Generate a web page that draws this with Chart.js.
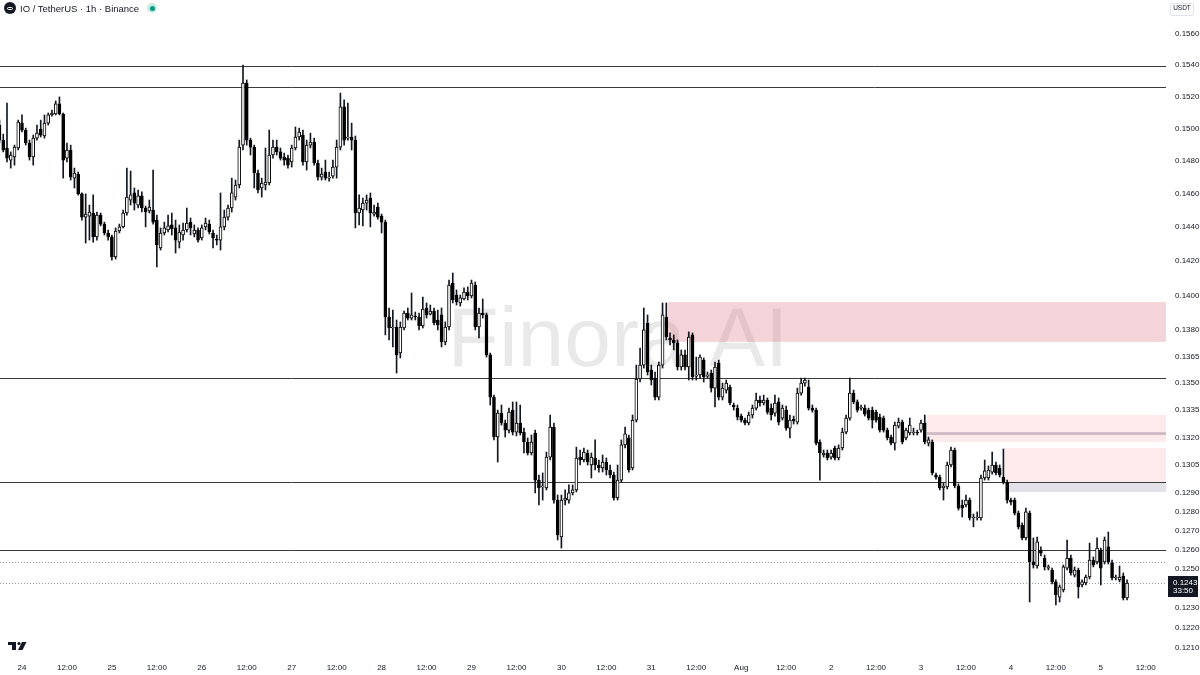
<!DOCTYPE html>
<html>
<head>
<meta charset="utf-8">
<script src="https://cdn.jsdelivr.net/npm/chart.js@4.4.1/dist/chart.umd.min.js"></script>
<style>
  html, body { margin: 0; padding: 0; background: #ffffff; }
  #wrap { position: relative; width: 1200px; height: 675px; overflow: hidden; }
  #title { position: absolute; left: 4px; top: 3px; height: 14px; line-height: 14px;
    font: 9.5px "Liberation Sans", Arial, sans-serif; color: #131722; white-space: nowrap; }
  #title .ico { display: inline-block; width: 12px; height: 12px; border-radius: 50%; background: #131722;
    vertical-align: middle; margin-right: 4px; position: relative; top: -1px; }
  #title .ico:after { content: ""; position: absolute; left: 3px; top: 4.5px; width: 6px; height: 3px;
    border: 1px solid #fff; border-radius: 2px; box-sizing: border-box; }
  #title .live { display: inline-block; width: 10px; height: 10px; border-radius: 50%; background: #c7ebdf;
    vertical-align: middle; margin-left: 8px; position: relative; top: -1px; }
  #title .live:after { content: ""; position: absolute; left: 2.5px; top: 2.5px; width: 5px; height: 5px;
    border-radius: 50%; background: #089981; }
  #unit { position: absolute; left: 1170px; top: 3px; width: 24px; height: 13px; line-height: 13px;
    border: 1px solid #e0e3eb; border-radius: 2px; box-sizing: border-box; text-align: center;
    font: 6.5px "Liberation Sans", Arial, sans-serif; color: #131722; }
</style>
</head>
<body>
<div id="wrap">
  <canvas id="c" width="1200" height="675"></canvas>
  <div id="title"><span class="ico"></span>IO / TetherUS · 1h · Binance<span class="live"></span></div>
  <div id="unit">USDT</div>
</div>
<script>
// hourly candles, first one is 23 Jul 18:00 (hour -6 counted from 24 Jul 00:00)
const startHour = -6;

const open = [
  0.15022,0.14929,0.14880,0.14806,0.14825,0.14880,0.15034,0.14991,0.14911,0.14825,
  0.14941,0.14997,0.14954,0.15034,0.15085,0.15091,0.15154,0.15091,0.14818,0.14868,
  0.14696,0.14721,0.14600,0.14461,0.14467,0.14485,0.14343,0.14473,0.14419,0.14366,
  0.14343,0.14224,0.14378,0.14402,0.14485,0.14563,0.14606,0.14533,0.14588,0.14515,
  0.14497,0.14503,0.14443,0.14277,0.14366,0.14384,0.14414,0.14396,0.14312,0.14354,
  0.14384,0.14431,0.14360,0.14384,0.14336,0.14402,0.14419,0.14366,0.14330,0.14324,
  0.14402,0.14461,0.14515,0.14581,0.14654,0.14898,0.15286,0.14929,0.14886,0.14727,
  0.14636,0.14654,0.14666,0.14837,0.14886,0.14856,0.14825,0.14818,0.14794,0.14880,
  0.14948,0.14960,0.14794,0.14898,0.14917,0.14788,0.14702,0.14733,0.14696,0.14708,
  0.14763,0.14886,0.15135,0.14941,0.14948,0.14929,0.14485,0.14503,0.14545,0.14575,
  0.14479,0.14521,0.14467,0.14431,0.13875,0.13812,0.13818,0.13670,0.13812,0.13898,
  0.13869,0.13881,0.13875,0.13824,0.13927,0.13892,0.13909,0.13858,0.13887,0.13733,
  0.13818,0.14072,0.14002,0.13956,0.13979,0.14019,0.13996,0.14060,0.13818,0.13898,
  0.13887,0.13659,0.13423,0.13203,0.13334,0.13280,0.13241,0.13351,0.13230,0.13280,
  0.13230,0.13176,0.13116,0.13225,0.12970,0.12933,0.12928,0.13094,0.13258,0.12863,
  0.12668,0.12863,0.12863,0.12901,0.12917,0.13094,0.13078,0.13116,0.13051,0.13089,
  0.13051,0.13035,0.13067,0.13024,0.12997,0.12874,0.12970,0.13160,0.13198,0.13035,
  0.13296,0.13524,0.13602,0.13841,0.13574,0.13529,0.13423,0.13602,0.13875,0.13755,
  0.13744,0.13727,0.13591,0.13659,0.13591,0.13773,0.13540,0.13546,0.13630,0.13540,
  0.13557,0.13473,0.13613,0.13423,0.13462,0.13479,0.13379,0.13362,0.13318,0.13296,
  0.13280,0.13324,0.13362,0.13407,0.13390,0.13407,0.13362,0.13334,0.13396,0.13307,
  0.13351,0.13252,0.13302,0.13285,0.13445,0.13501,0.13479,0.13362,0.13351,0.13176,
  0.13105,0.13116,0.13094,0.13143,0.13089,0.13143,0.13230,0.13307,0.13445,0.13396,
  0.13362,0.13362,0.13351,0.13351,0.13340,0.13312,0.13307,0.13241,0.13203,0.13170,
  0.13263,0.13285,0.13198,0.13225,0.13225,0.13230,0.13241,0.13280,0.13170,0.13176,
  0.12997,0.12986,0.12928,0.12933,0.13051,0.13132,0.12938,0.12837,0.12837,0.12863,
  0.12768,0.12768,0.12768,0.12981,0.12981,0.13013,0.13051,0.13035,0.12986,0.12959,
  0.12863,0.12863,0.12794,0.12731,0.12663,0.12794,0.12538,0.12517,0.12600,0.12558,
  0.12506,0.12496,0.12435,0.12357,0.12393,0.12506,0.12558,0.12470,0.12496,0.12419,
  0.12429,0.12460,0.12548,0.12538,0.12600,0.12538,0.12616,0.12532,0.12455,0.12445,
  0.12465,0.12352
];

const high = [
  0.15053,0.14966,0.15160,0.14856,0.14898,0.15053,0.15085,0.15003,0.14929,0.14960,
  0.15022,0.15053,0.15085,0.15097,0.15116,0.15173,0.15198,0.15097,0.14911,0.14898,
  0.14757,0.14733,0.14606,0.14600,0.14533,0.14594,0.14491,0.14485,0.14431,0.14384,
  0.14354,0.14396,0.14419,0.14503,0.14757,0.14739,0.14636,0.14624,0.14612,0.14527,
  0.14563,0.14745,0.14473,0.14396,0.14431,0.14473,0.14485,0.14443,0.14414,0.14425,
  0.14515,0.14455,0.14414,0.14396,0.14414,0.14455,0.14443,0.14384,0.14354,0.14606,
  0.14503,0.14533,0.14696,0.14684,0.14929,0.15400,0.15305,0.14941,0.14898,0.14745,
  0.14696,0.14880,0.14991,0.14929,0.14929,0.14880,0.14849,0.14837,0.14898,0.15010,
  0.15003,0.14991,0.14929,0.14972,0.14941,0.14806,0.14757,0.14806,0.14733,0.14806,
  0.14929,0.15222,0.15179,0.15160,0.15034,0.14954,0.14594,0.14575,0.14594,0.14606,
  0.14533,0.14545,0.14479,0.14443,0.13927,0.13915,0.13858,0.13847,0.13909,0.13927,
  0.14014,0.13904,0.13898,0.13990,0.13956,0.13944,0.13927,0.13915,0.13927,0.13847,
  0.14089,0.14130,0.14031,0.14002,0.14043,0.14049,0.14089,0.14078,0.13927,0.13979,
  0.13898,0.13670,0.13434,0.13351,0.13379,0.13296,0.13362,0.13396,0.13396,0.13379,
  0.13252,0.13198,0.13214,0.13241,0.12997,0.13008,0.13121,0.13324,0.13280,0.12890,
  0.12890,0.12917,0.12944,0.12944,0.13148,0.13132,0.13143,0.13132,0.13116,0.13187,
  0.13078,0.13105,0.13089,0.13051,0.13013,0.13051,0.13187,0.13258,0.13214,0.13324,
  0.13602,0.13698,0.13927,0.13887,0.13602,0.13563,0.13619,0.13956,0.13956,0.13784,
  0.13773,0.13744,0.13687,0.13687,0.13790,0.13784,0.13647,0.13659,0.13642,0.13563,
  0.13574,0.13619,0.13630,0.13501,0.13518,0.13490,0.13390,0.13379,0.13329,0.13307,
  0.13340,0.13379,0.13445,0.13429,0.13434,0.13418,0.13385,0.13434,0.13418,0.13379,
  0.13373,0.13324,0.13318,0.13473,0.13529,0.13529,0.13518,0.13379,0.13362,0.13187,
  0.13132,0.13132,0.13132,0.13154,0.13160,0.13252,0.13324,0.13529,0.13462,0.13407,
  0.13379,0.13379,0.13362,0.13368,0.13351,0.13329,0.13318,0.13252,0.13214,0.13285,
  0.13307,0.13296,0.13252,0.13307,0.13252,0.13241,0.13296,0.13324,0.13203,0.13187,
  0.13008,0.12997,0.12954,0.13067,0.13148,0.13143,0.12949,0.12863,0.12890,0.12874,
  0.12789,0.12800,0.12997,0.13078,0.13046,0.13121,0.13067,0.13051,0.13138,0.12970,
  0.12874,0.12874,0.12805,0.12742,0.12820,0.12805,0.12663,0.12668,0.12616,0.12574,
  0.12522,0.12506,0.12445,0.12419,0.12522,0.12652,0.12574,0.12512,0.12506,0.12445,
  0.12470,0.12636,0.12564,0.12663,0.12610,0.12668,0.12694,0.12548,0.12470,0.12517,
  0.12481,0.12445
];

const low = [
  0.14911,0.14856,0.14794,0.14757,0.14775,0.14868,0.14979,0.14898,0.14806,0.14775,
  0.14929,0.14948,0.14941,0.15022,0.15078,0.15085,0.15085,0.14696,0.14794,0.14684,
  0.14636,0.14593,0.14443,0.14306,0.14324,0.14312,0.14324,0.14408,0.14354,0.14324,
  0.14206,0.14212,0.14366,0.14396,0.14473,0.14533,0.14503,0.14515,0.14491,0.14402,
  0.14485,0.14419,0.14165,0.14265,0.14354,0.14372,0.14354,0.14247,0.14277,0.14324,
  0.14372,0.14354,0.14343,0.14312,0.14324,0.14384,0.14360,0.14277,0.14295,0.14265,
  0.14384,0.14443,0.14491,0.14563,0.14636,0.14868,0.14898,0.14837,0.14636,0.14606,
  0.14581,0.14624,0.14654,0.14818,0.14837,0.14806,0.14775,0.14757,0.14763,0.14868,
  0.14929,0.14775,0.14745,0.14880,0.14775,0.14684,0.14684,0.14684,0.14678,0.14696,
  0.14696,0.14868,0.14898,0.14929,0.14868,0.14396,0.14414,0.14408,0.14503,0.14402,
  0.14467,0.14449,0.14366,0.13773,0.13744,0.13704,0.13557,0.13642,0.13801,0.13858,
  0.13858,0.13858,0.13801,0.13812,0.13869,0.13887,0.13830,0.13801,0.13704,0.13716,
  0.13801,0.13956,0.13944,0.13938,0.13973,0.13973,0.13985,0.13801,0.13755,0.13869,
  0.13647,0.13379,0.13187,0.13067,0.13268,0.13203,0.13225,0.13214,0.13209,0.13214,
  0.13116,0.13105,0.13105,0.12901,0.12837,0.12863,0.12917,0.13078,0.12847,0.12652,
  0.12610,0.12837,0.12847,0.12890,0.12906,0.13051,0.13067,0.13051,0.12981,0.13024,
  0.13013,0.13013,0.12997,0.12981,0.12863,0.12863,0.12959,0.13143,0.13013,0.13024,
  0.13285,0.13507,0.13585,0.13546,0.13490,0.13407,0.13407,0.13585,0.13744,0.13716,
  0.13687,0.13574,0.13574,0.13574,0.13518,0.13518,0.13518,0.13529,0.13507,0.13529,
  0.13451,0.13368,0.13407,0.13407,0.13445,0.13379,0.13351,0.13296,0.13285,0.13269,
  0.13269,0.13307,0.13351,0.13373,0.13379,0.13329,0.13296,0.13318,0.13269,0.13296,
  0.13241,0.13198,0.13274,0.13274,0.13434,0.13484,0.13351,0.13340,0.13160,0.12970,
  0.13094,0.13078,0.13083,0.13078,0.13078,0.13132,0.13220,0.13296,0.13385,0.13340,
  0.13351,0.13318,0.13296,0.13252,0.13285,0.13230,0.13230,0.13187,0.13160,0.13132,
  0.13252,0.13165,0.13187,0.13214,0.13214,0.13214,0.13230,0.13165,0.13154,0.12997,
  0.12975,0.12917,0.12863,0.12922,0.13040,0.12928,0.12810,0.12773,0.12826,0.12757,
  0.12721,0.12757,0.12757,0.12970,0.12970,0.13002,0.12997,0.12986,0.12949,0.12847,
  0.12837,0.12784,0.12710,0.12652,0.12652,0.12332,0.12506,0.12506,0.12569,0.12496,
  0.12496,0.12424,0.12317,0.12332,0.12383,0.12496,0.12470,0.12460,0.12352,0.12409,
  0.12419,0.12450,0.12512,0.12527,0.12419,0.12527,0.12527,0.12445,0.12445,0.12435,
  0.12342,0.12342
];

const close = [
  0.14929,0.14868,0.14818,0.14837,0.14886,0.15041,0.14991,0.14911,0.14825,0.14941,
  0.14972,0.14960,0.15034,0.15085,0.15097,0.15154,0.15091,0.14806,0.14868,0.14702,
  0.14727,0.14600,0.14461,0.14479,0.14491,0.14343,0.14473,0.14419,0.14366,0.14343,
  0.14224,0.14378,0.14402,0.14485,0.14581,0.14594,0.14545,0.14588,0.14515,0.14491,
  0.14521,0.14431,0.14295,0.14366,0.14396,0.14408,0.14390,0.14324,0.14372,0.14384,
  0.14425,0.14396,0.14384,0.14324,0.14396,0.14425,0.14372,0.14336,0.14324,0.14402,
  0.14461,0.14515,0.14606,0.14654,0.14886,0.15286,0.14929,0.14886,0.14727,0.14624,
  0.14666,0.14672,0.14837,0.14886,0.14856,0.14818,0.14806,0.14775,0.14880,0.14948,
  0.14979,0.14794,0.14898,0.14917,0.14788,0.14702,0.14721,0.14696,0.14702,0.14763,
  0.14886,0.15135,0.14929,0.14948,0.14929,0.14485,0.14515,0.14545,0.14563,0.14485,
  0.14491,0.14461,0.14431,0.13875,0.13812,0.13818,0.13659,0.13818,0.13898,0.13869,
  0.13887,0.13875,0.13824,0.13921,0.13887,0.13909,0.13841,0.13830,0.13733,0.13818,
  0.14060,0.13973,0.13962,0.13985,0.14019,0.13996,0.14072,0.13818,0.13898,0.13887,
  0.13659,0.13423,0.13203,0.13334,0.13280,0.13241,0.13340,0.13230,0.13280,0.13225,
  0.13176,0.13116,0.13176,0.12970,0.12928,0.12933,0.13094,0.13258,0.12863,0.12679,
  0.12863,0.12874,0.12901,0.12917,0.13089,0.13078,0.13121,0.13067,0.13094,0.13051,
  0.13035,0.13067,0.13024,0.12997,0.12874,0.12970,0.13160,0.13220,0.13024,0.13296,
  0.13524,0.13602,0.13801,0.13563,0.13518,0.13423,0.13602,0.13887,0.13761,0.13744,
  0.13727,0.13591,0.13659,0.13591,0.13761,0.13535,0.13546,0.13647,0.13535,0.13546,
  0.13473,0.13591,0.13423,0.13473,0.13501,0.13390,0.13368,0.13312,0.13296,0.13280,
  0.13324,0.13362,0.13407,0.13390,0.13407,0.13340,0.13324,0.13390,0.13285,0.13362,
  0.13252,0.13296,0.13291,0.13445,0.13501,0.13518,0.13362,0.13351,0.13170,0.13116,
  0.13116,0.13089,0.13116,0.13089,0.13143,0.13230,0.13307,0.13445,0.13396,0.13351,
  0.13368,0.13329,0.13307,0.13296,0.13296,0.13241,0.13241,0.13198,0.13170,0.13269,
  0.13285,0.13176,0.13241,0.13269,0.13230,0.13225,0.13280,0.13176,0.13187,0.13008,
  0.12986,0.12928,0.12938,0.13051,0.13132,0.12938,0.12820,0.12820,0.12863,0.12768,
  0.12773,0.12773,0.12981,0.13019,0.13024,0.13051,0.13008,0.12997,0.12959,0.12863,
  0.12852,0.12794,0.12721,0.12663,0.12800,0.12538,0.12522,0.12642,0.12584,0.12512,
  0.12512,0.12435,0.12368,0.12409,0.12512,0.12558,0.12481,0.12496,0.12409,0.12435,
  0.12460,0.12548,0.12522,0.12610,0.12506,0.12652,0.12538,0.12455,0.12457,0.12460,
  0.12352,0.12429
];

// time axis: hours from 24 Jul 00:00
const xTickHours = [0,12,24,36,48,60,72,84,96,108,120,132,144,156,168,180,192,204,216,228,240,252,264,276,288,300];
const xTickLabels = ['24','12:00','25','12:00','26','12:00','27','12:00','28','12:00','29','12:00','30','12:00',
  '31','12:00','Aug','12:00','2','12:00','3','12:00','4','12:00','5','12:00'];

const yTickValues = [0.1560,0.1540,0.1520,0.1500,0.1480,0.1460,0.1440,0.1420,0.1400,0.1380,0.1365,0.1350,
  0.1335,0.1320,0.1305,0.1290,0.1280,0.1270,0.1260,0.1250,0.1230,0.1220,0.1210];

// drawn levels and zones
const levelLines = [0.15395, 0.15260, 0.13529, 0.12959, 0.12600];
const dottedLines = [0.12540];
const zones = [
  { from: 172.4, top: 0.13961, bottom: 0.13733, fill: 'rgba(215,95,110,0.27)' },
  { from: 241.6, top: 0.13324, bottom: 0.13176, fill: 'rgba(242,54,69,0.11)' },
  { from: 241.6, top: 0.13230, bottom: 0.13214, fill: 'rgba(110,90,120,0.32)' },
  { from: 262.4, top: 0.13143, bottom: 0.12959, fill: 'rgba(242,54,69,0.11)' },
  { from: 262.4, top: 0.12954, bottom: 0.12906, fill: 'rgba(110,100,140,0.2)' }
];
const countdown = '33:50';

const wicks = low.map((l, i) => ({ x: startHour + i, y: [l, high[i]] }));
const bodies = open.map((o, i) => ({ x: startHour + i, y: [o, close[i]] }));
const lastClose = close[close.length - 1];

const decor = {
  id: 'decor',
  beforeDatasetsDraw(chart) {
    const { ctx, chartArea: a, scales: { x, y } } = chart;
    ctx.save();
    // watermark
    ctx.fillStyle = 'rgba(0,0,0,0.085)';
    ctx.font = '84px "Liberation Sans", Arial, sans-serif';
    ctx.textAlign = 'center';
    ctx.textBaseline = 'alphabetic';
    ctx.fillText('Finora AI', 618, 366);
    // zones
    zones.forEach(z => {
      const x0 = x.getPixelForValue(z.from);
      const y0 = y.getPixelForValue(z.top);
      const y1 = y.getPixelForValue(z.bottom);
      ctx.fillStyle = z.fill;
      ctx.fillRect(x0, y0, a.right - x0, y1 - y0);
    });
    // horizontal levels
    ctx.strokeStyle = '#3a3a3a';
    ctx.lineWidth = 1;
    levelLines.forEach(v => {
      const py = Math.round(y.getPixelForValue(v)) + 0.5;
      ctx.beginPath(); ctx.moveTo(a.left, py); ctx.lineTo(a.right, py); ctx.stroke();
    });
    ctx.strokeStyle = '#9598a1';
    ctx.setLineDash([1, 2]);
    dottedLines.concat([lastClose]).forEach(v => {
      const py = Math.round(y.getPixelForValue(v)) + 0.5;
      ctx.beginPath(); ctx.moveTo(a.left, py); ctx.lineTo(a.right, py); ctx.stroke();
    });
    ctx.restore();
  },
  afterDraw(chart) {
    const { ctx, chartArea: a, scales: { y } } = chart;
    ctx.save();
    // last price label
    const py = y.getPixelForValue(lastClose);
    ctx.fillStyle = '#131722';
    ctx.fillRect(a.right + 2, py - 7, 30, 21);
    ctx.fillStyle = '#ffffff';
    ctx.font = '8px "Liberation Sans", Arial, sans-serif';
    ctx.textAlign = 'left';
    ctx.textBaseline = 'middle';
    ctx.fillText(lastClose.toFixed(4), a.right + 7, py);
    ctx.fillText(countdown, a.right + 7, py + 8);
    // TV logo
    ctx.fillStyle = '#131722';
    ctx.fillRect(8, 642, 8, 3);
    ctx.fillRect(12, 642, 4, 8);
    ctx.beginPath(); ctx.arc(19, 643.5, 1.6, 0, Math.PI * 2); ctx.fill();
    ctx.beginPath();
    ctx.moveTo(22, 642); ctx.lineTo(26.5, 642); ctx.lineTo(22.5, 650); ctx.lineTo(18, 650);
    ctx.closePath(); ctx.fill();
    ctx.restore();
  }
};

new Chart(document.getElementById('c'), {
  type: 'bar',
  data: {
    datasets: [
      {
        label: 'wick',
        data: wicks,
        backgroundColor: '#131722',
        barThickness: 1,
        grouped: false,
        order: 2
      },
      {
        label: 'body',
        data: bodies,
        backgroundColor: ctx => (close[ctx.dataIndex] >= open[ctx.dataIndex] ? '#ffffff' : '#000000'),
        borderColor: '#000000',
        borderWidth: 1,
        borderSkipped: false,
        barThickness: 3,
        minBarLength: 1,
        grouped: false,
        order: 1
      }
    ]
  },
  options: {
    responsive: false,
    animation: false,
    layout: { padding: 0 },
    plugins: { legend: { display: false }, tooltip: { enabled: false } },
    scales: {
      x: {
        type: 'linear',
        offset: false,
        min: -5.87,
        max: 305.4,
        grid: { display: false, drawTicks: false },
        border: { display: false },
        afterBuildTicks: s => { s.ticks = xTickHours.map(v => ({ value: v })); },
        afterFit: s => { s.height = 20; s.paddingLeft = 0; s.paddingRight = 0; },
        ticks: {
          callback: v => xTickLabels[xTickHours.indexOf(v)],
          autoSkip: false,
          maxRotation: 0,
          padding: 8,
          color: '#131722',
          font: { size: 8, family: '"Liberation Sans", Arial, sans-serif' }
        }
      },
      y: {
        type: 'logarithmic',
        position: 'right',
        min: 0.120643,
        max: 0.158198,
        grid: { display: false, drawTicks: false },
        border: { display: false },
        afterBuildTicks: s => { s.ticks = yTickValues.map(v => ({ value: v })); },
        afterFit: s => { s.width = 34; s.paddingTop = 0; s.paddingBottom = 0; },
        ticks: {
          callback: v => Number(v).toFixed(4),
          autoSkip: false,
          padding: 9,
          color: '#131722',
          font: { size: 8, family: '"Liberation Sans", Arial, sans-serif' }
        }
      }
    }
  },
  plugins: [decor]
});
</script>
</body>
</html>
